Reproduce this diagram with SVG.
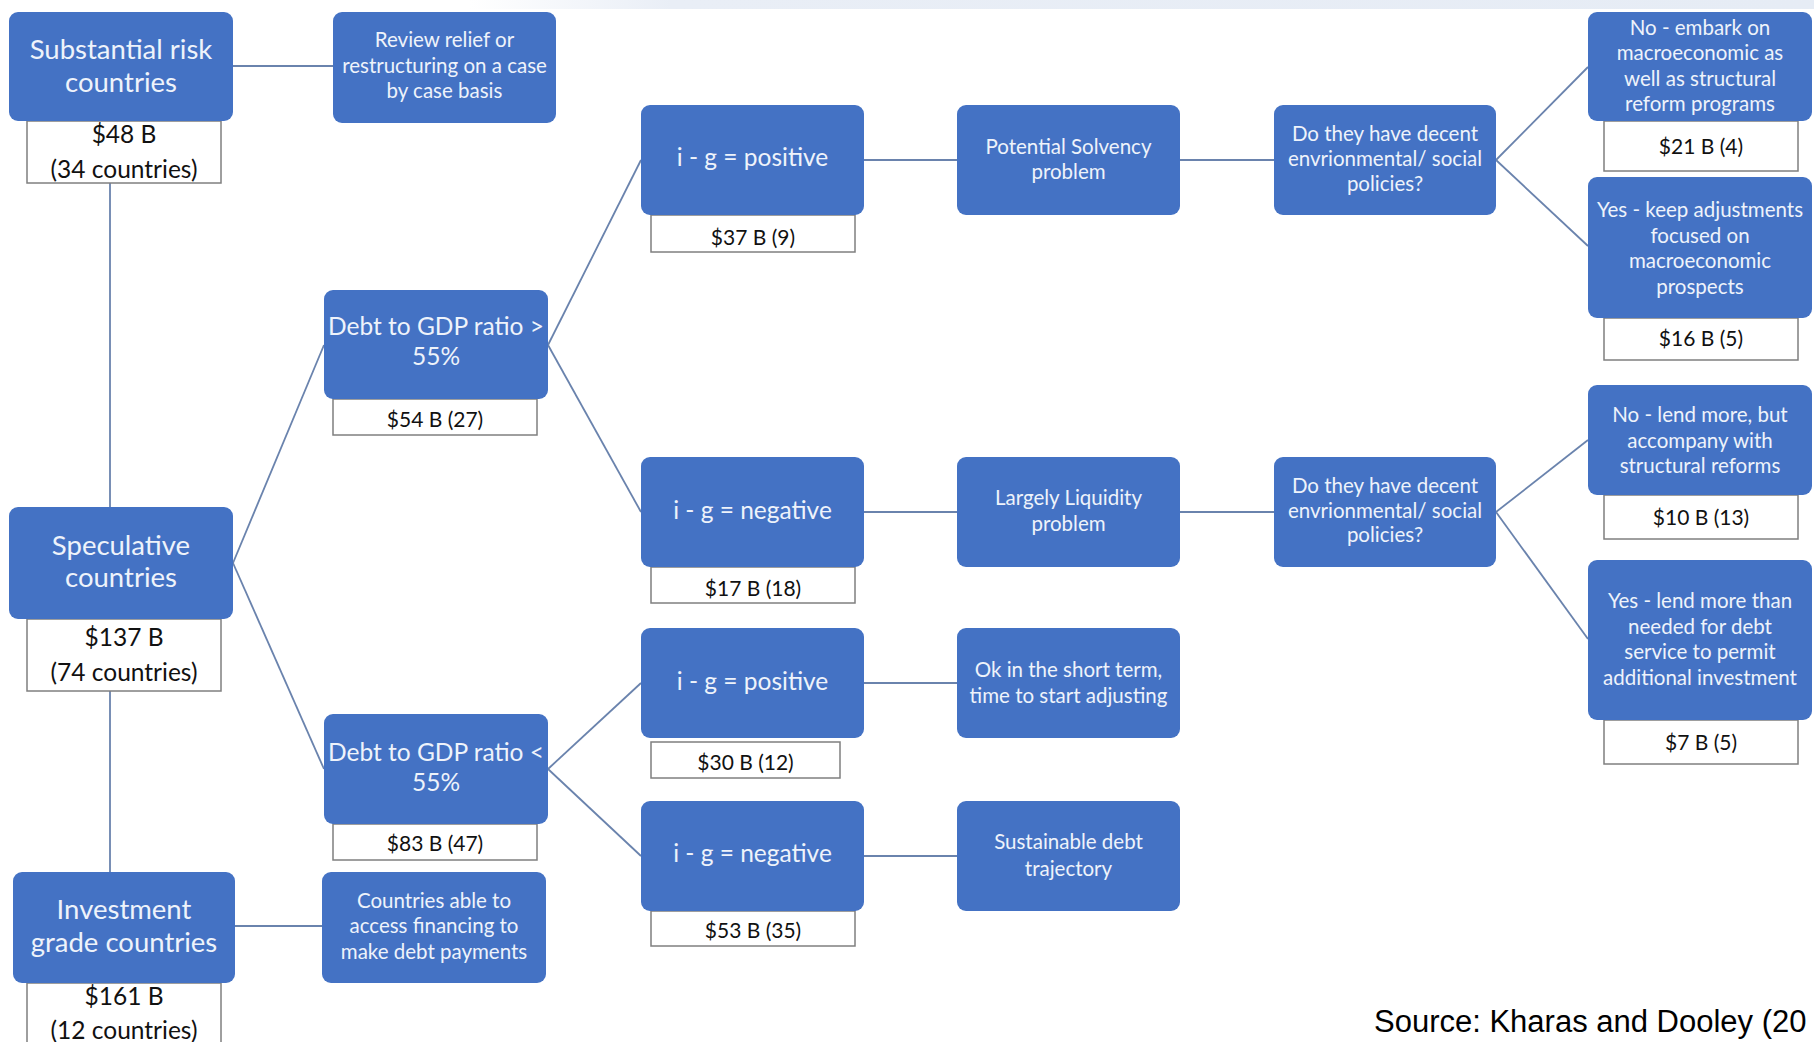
<svg xmlns="http://www.w3.org/2000/svg" width="1814" height="1042" viewBox="0 0 1814 1042">
<defs>
<linearGradient id="band" x1="0" y1="0" x2="1" y2="0">
<stop offset="0" stop-color="#ffffff"/>
<stop offset="0.15" stop-color="#e9eef6"/>
<stop offset="1" stop-color="#e6ecf5"/>
</linearGradient>
</defs>
<style>
.box{fill:#4472c4;}
.val{fill:#ffffff;stroke:#7f7f7f;stroke-width:1.5;}
.t{font-family:Lato,"Liberation Sans",sans-serif;fill:#eef3fb;text-anchor:middle;}
.v{font-family:Lato,"Liberation Sans",sans-serif;fill:#111111;text-anchor:middle;}
.big{font-size:27.5px;}
.mid{font-size:24.5px;}
.sm{font-size:20.5px;}
.vb{font-size:24.5px;}
.vs{font-size:21px;}
#connectors line{stroke:#6a83ad;stroke-width:1.8;fill:none;}
</style>
<rect width="1814" height="1042" fill="#ffffff"/>
<rect x="470" y="0" width="1344" height="9" fill="url(#band)"/>

<g id="connectors">
<line x1="233" y1="66" x2="333" y2="66"/>
<line x1="110" y1="183" x2="110" y2="507"/>
<line x1="110" y1="691" x2="110" y2="872"/>
<line x1="233" y1="563" x2="324" y2="345"/>
<line x1="233" y1="563" x2="324" y2="769"/>
<line x1="235" y1="926" x2="322" y2="926"/>
<line x1="548" y1="345" x2="641" y2="160"/>
<line x1="548" y1="345" x2="641" y2="512"/>
<line x1="548" y1="769" x2="641" y2="683"/>
<line x1="548" y1="769" x2="641" y2="856"/>
<line x1="864" y1="160" x2="957" y2="160"/>
<line x1="864" y1="512" x2="957" y2="512"/>
<line x1="864" y1="683" x2="957" y2="683"/>
<line x1="864" y1="856" x2="957" y2="856"/>
<line x1="1180" y1="160" x2="1274" y2="160"/>
<line x1="1180" y1="512" x2="1274" y2="512"/>
<line x1="1496" y1="160" x2="1588" y2="67"/>
<line x1="1496" y1="160" x2="1588" y2="246"/>
<line x1="1496" y1="512" x2="1588" y2="440"/>
<line x1="1496" y1="512" x2="1588" y2="639"/>
</g>

<g id="substantial">
<rect class="val" x="27" y="121" width="194" height="62"/>
<rect class="box" x="9" y="12" width="224" height="109" rx="9"/>
<text class="t big" x="121" y="59">Substantial risk</text>
<text class="t big" x="121" y="92">countries</text>
<text class="v vb" x="124" y="143">$48 B</text>
<text class="v vb" x="124" y="178">(34 countries)</text>
</g>

<g id="review">
<rect class="box" x="333" y="12" width="223" height="111" rx="9"/>
<text class="t sm" x="444.5" y="47">Review relief or</text>
<text class="t sm" x="444.5" y="73">restructuring on a case</text>
<text class="t sm" x="444.5" y="98">by case basis</text>
</g>

<g id="speculative">
<rect class="val" x="27" y="619" width="194" height="72"/>
<rect class="box" x="9" y="507" width="224" height="112" rx="9"/>
<text class="t big" x="121" y="555">Speculative</text>
<text class="t big" x="121" y="587">countries</text>
<text class="v vb" x="124" y="646">$137 B</text>
<text class="v vb" x="124" y="681">(74 countries)</text>
</g>

<g id="investment">
<rect class="val" x="27" y="983" width="194" height="70"/>
<rect class="box" x="13" y="872" width="222" height="111" rx="9"/>
<text class="t big" x="124" y="919">Investment</text>
<text class="t big" x="124" y="952">grade countries</text>
<text class="v vb" x="124" y="1005">$161 B</text>
<text class="v vb" x="124" y="1039">(12 countries)</text>
</g>

<g id="countries-able">
<rect class="box" x="322" y="872" width="224" height="111" rx="9"/>
<text class="t sm" x="434" y="908">Countries able to</text>
<text class="t sm" x="434" y="933">access financing to</text>
<text class="t sm" x="434" y="959">make debt payments</text>
</g>

<g id="debt-high">
<rect class="val" x="333" y="399" width="204" height="36"/>
<rect class="box" x="324" y="290" width="224" height="109" rx="9"/>
<text class="t mid" x="436" y="335">Debt to GDP ratio &gt;</text>
<text class="t mid" x="436" y="365">55%</text>
<text class="v vs" x="435" y="427">$54 B (27)</text>
</g>

<g id="debt-low">
<rect class="val" x="333" y="824" width="204" height="36"/>
<rect class="box" x="324" y="714" width="224" height="110" rx="9"/>
<text class="t mid" x="436" y="761">Debt to GDP ratio &lt;</text>
<text class="t mid" x="436" y="791">55%</text>
<text class="v vs" x="435" y="851">$83 B (47)</text>
</g>

<g id="ig-pos-1">
<rect class="val" x="651" y="215" width="204" height="37"/>
<rect class="box" x="641" y="105" width="223" height="110" rx="9"/>
<text class="t mid" x="752.5" y="166">i - g = positive</text>
<text class="v vs" x="753" y="245">$37 B (9)</text>
</g>

<g id="ig-neg-1">
<rect class="val" x="651" y="567" width="204" height="36"/>
<rect class="box" x="641" y="457" width="223" height="110" rx="9"/>
<text class="t mid" x="752.5" y="519">i - g = negative</text>
<text class="v vs" x="753" y="596">$17 B (18)</text>
</g>

<g id="ig-pos-2">
<rect class="val" x="651" y="742" width="189" height="36"/>
<rect class="box" x="641" y="628" width="223" height="110" rx="9"/>
<text class="t mid" x="752.5" y="690">i - g = positive</text>
<text class="v vs" x="745.5" y="770">$30 B (12)</text>
</g>

<g id="ig-neg-2">
<rect class="val" x="651" y="911" width="204" height="35"/>
<rect class="box" x="641" y="801" width="223" height="110" rx="9"/>
<text class="t mid" x="752.5" y="862">i - g = negative</text>
<text class="v vs" x="753" y="938">$53 B (35)</text>
</g>

<g id="solvency">
<rect class="box" x="957" y="105" width="223" height="110" rx="9"/>
<text class="t sm" x="1068.5" y="153.5">Potential Solvency</text>
<text class="t sm" x="1068.5" y="178.5">problem</text>
</g>

<g id="liquidity">
<rect class="box" x="957" y="457" width="223" height="110" rx="9"/>
<text class="t sm" x="1068.5" y="504.5">Largely Liquidity</text>
<text class="t sm" x="1068.5" y="530.5">problem</text>
</g>

<g id="short-term">
<rect class="box" x="957" y="628" width="223" height="110" rx="9"/>
<text class="t sm" x="1068.5" y="676.5">Ok in the short term,</text>
<text class="t sm" x="1068.5" y="702.5">time to start adjusting</text>
</g>

<g id="sustainable">
<rect class="box" x="957" y="801" width="223" height="110" rx="9"/>
<text class="t sm" x="1068.5" y="848.5">Sustainable debt</text>
<text class="t sm" x="1068.5" y="875.5">trajectory</text>
</g>

<g id="policies-1">
<rect class="box" x="1274" y="105" width="222" height="110" rx="9"/>
<text class="t sm" x="1385" y="140.5">Do they have decent</text>
<text class="t sm" x="1385" y="165.5">envrionmental/ social</text>
<text class="t sm" x="1385" y="190.5">policies?</text>
</g>

<g id="policies-2">
<rect class="box" x="1274" y="457" width="222" height="110" rx="9"/>
<text class="t sm" x="1385" y="492.5">Do they have decent</text>
<text class="t sm" x="1385" y="517.5">envrionmental/ social</text>
<text class="t sm" x="1385" y="541.5">policies?</text>
</g>

<g id="no-embark">
<rect class="val" x="1604" y="121" width="194" height="50"/>
<rect class="box" x="1588" y="12" width="224" height="109" rx="9"/>
<text class="t sm" x="1700" y="34.5">No - embark on</text>
<text class="t sm" x="1700" y="59.5">macroeconomic as</text>
<text class="t sm" x="1700" y="85.5">well as structural</text>
<text class="t sm" x="1700" y="110.5">reform programs</text>
<text class="v vs" x="1701" y="154">$21 B (4)</text>
</g>

<g id="yes-keep">
<rect class="val" x="1604" y="318" width="194" height="42"/>
<rect class="box" x="1588" y="177" width="224" height="141" rx="9"/>
<text class="t sm" x="1700" y="216.5">Yes - keep adjustments</text>
<text class="t sm" x="1700" y="242.5">focused on</text>
<text class="t sm" x="1700" y="267.5">macroeconomic</text>
<text class="t sm" x="1700" y="293.5">prospects</text>
<text class="v vs" x="1701" y="346">$16 B (5)</text>
</g>

<g id="no-lend">
<rect class="val" x="1604" y="495" width="194" height="44"/>
<rect class="box" x="1588" y="385" width="224" height="110" rx="9"/>
<text class="t sm" x="1700" y="421.5">No - lend more, but</text>
<text class="t sm" x="1700" y="447.5">accompany with</text>
<text class="t sm" x="1700" y="472.5">structural reforms</text>
<text class="v vs" x="1701" y="525">$10 B (13)</text>
</g>

<g id="yes-lend">
<rect class="val" x="1604" y="720" width="194" height="44"/>
<rect class="box" x="1588" y="560" width="224" height="160" rx="9"/>
<text class="t sm" x="1700" y="607.5">Yes - lend more than</text>
<text class="t sm" x="1700" y="633.5">needed for debt</text>
<text class="t sm" x="1700" y="658.5">service to permit</text>
<text class="t sm" x="1700" y="684.5">additional investment</text>
<text class="v vs" x="1701" y="750">$7 B (5)</text>
</g>

<text x="1374" y="1032" font-family="'Liberation Sans',Arial,sans-serif" font-size="31" fill="#000000">Source: Kharas and Dooley (20</text>
</svg>
